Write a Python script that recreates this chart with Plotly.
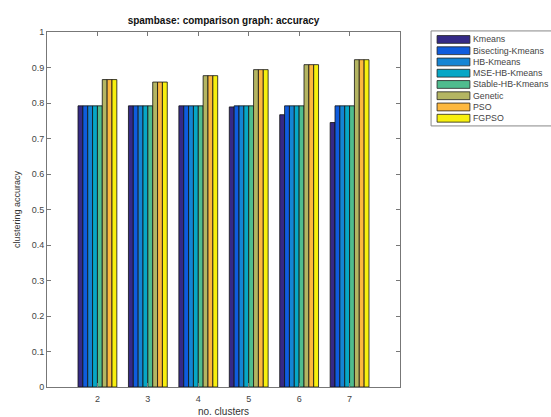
import plotly.graph_objects as go

clusters = [2, 3, 4, 5, 6, 7]
series_names = ["Kmeans", "Bisecting-Kmeans", "HB-Kmeans", "MSE-HB-Kmeans",
                "Stable-HB-Kmeans", "Genetic", "PSO", "FGPSO"]
kmeans = [0.792, 0.792, 0.792, 0.789, 0.767, 0.745]
bisecting = [0.792, 0.792, 0.792, 0.792, 0.792, 0.792]
hb = [0.792, 0.792, 0.792, 0.792, 0.792, 0.792]
mse_hb = [0.792, 0.792, 0.792, 0.792, 0.792, 0.792]
stable_hb = [0.792, 0.792, 0.792, 0.792, 0.792, 0.792]
genetic = [0.866, 0.859, 0.877, 0.894, 0.908, 0.922]
pso = [0.866, 0.859, 0.877, 0.894, 0.908, 0.922]
fgpso = [0.866, 0.859, 0.877, 0.894, 0.908, 0.922]
y_ticks = [0, 0.1, 0.2, 0.3, 0.4, 0.5, 0.6, 0.7, 0.8, 0.9, 1]
y_tick_labels = ["0", "0.1", "0.2", "0.3", "0.4", "0.5", "0.6", "0.7", "0.8", "0.9", "1"]

series_values = [kmeans, bisecting, hb, mse_hb, stable_hb, genetic, pso, fgpso]
colors = ["#352a87", "#0f5cdd", "#1485d4", "#06a7c6", "#4fbc8e",
          "#b4b562", "#fdb83e", "#f7f00e"]

FONT = "Liberation Sans, Arial, sans-serif"
fig = go.Figure()
for name, vals, col in zip(series_names, series_values, colors):
    fig.add_trace(go.Bar(x=clusters, y=vals, name=name,
                         marker=dict(color=col, line=dict(color="#111111", width=0.8)),
                         showlegend=False, hoverinfo="skip"))

# manual MATLAB-style legend
leg_left, leg_top = 1.088, 1.003
row_h = 0.0317
shapes = [dict(type="rect", xref="paper", yref="paper",
               x0=leg_left, x1=1.5, y0=leg_top - 8 * row_h - 0.014, y1=leg_top,
               line=dict(color="#888888", width=1), fillcolor="white", layer="below")]
annotations = []
for i, (name, col) in enumerate(zip(series_names, colors)):
    yc = leg_top - 0.024 - i * row_h
    shapes.append(dict(type="rect", xref="paper", yref="paper",
                       x0=leg_left + 0.017, x1=leg_left + 0.110,
                       y0=yc - 0.011, y1=yc + 0.011,
                       fillcolor=col, line=dict(color="#222222", width=0.8)))
    annotations.append(dict(xref="paper", yref="paper", x=leg_left + 0.112, y=yc,
                            text=name, showarrow=False, xanchor="left", yanchor="middle",
                            font=dict(family=FONT, size=8.8, color="#444444")))

fig.update_layout(
    width=551, height=417,
    margin=dict(l=47, r=151, t=32, b=30),
    paper_bgcolor="white", plot_bgcolor="white",
    barmode="group", bargap=0.23, bargroupgap=0,
    title=dict(text="<b>spambase: comparison graph: accuracy</b>",
               x=(47 + 400) / 2 / 551, xanchor="center", y=1 - 20 / 417, yanchor="middle",
               font=dict(family=FONT, size=10, color="#111111")),
    font=dict(family=FONT, size=9, color="#444444"),
    shapes=shapes, annotations=annotations,
)
fig.update_xaxes(range=[1, 8], tickvals=clusters, ticktext=[str(c) for c in clusters],
                 showgrid=False, zeroline=False, showline=True, linecolor="#777777",
                 linewidth=1, mirror="ticks", ticks="inside", ticklen=4, tickcolor="#777777",
                 ticklabelstandoff=3, automargin=False,
                 title=dict(text="no. clusters", standoff=5,
                            font=dict(family=FONT, size=10, color="#333333")))
fig.update_yaxes(range=[0, 1], tickvals=y_ticks, ticktext=y_tick_labels,
                 showgrid=False, zeroline=False, showline=True, linecolor="#777777",
                 linewidth=1, mirror="ticks", ticks="inside", ticklen=4, tickcolor="#777777",
                 automargin=False,
                 title=dict(text="clustering accuracy", standoff=9,
                            font=dict(family=FONT, size=9, color="#333333")))

fig.write_html("out.html", config={"displayModeBar": False},
               post_script="document.body.style.margin='0';document.body.style.overflow='hidden';")
